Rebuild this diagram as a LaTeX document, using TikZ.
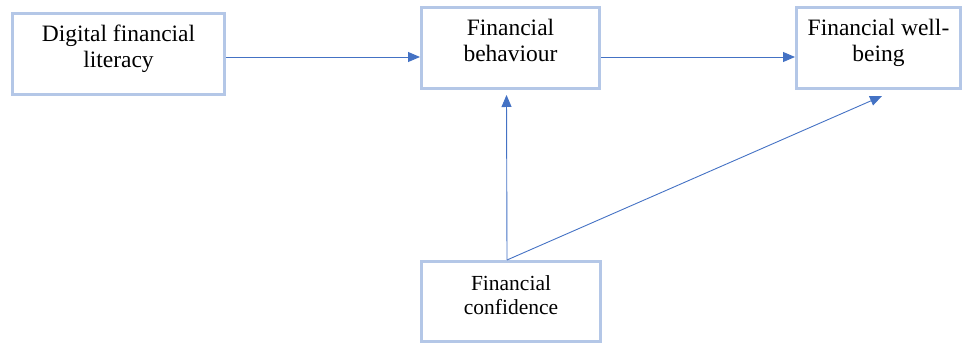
\documentclass[tikz,border=0pt]{standalone}
\usepackage{fontspec}
\setmainfont{Liberation Serif}
\usepackage{tikz}
\usetikzlibrary{arrows.meta}
\definecolor{boxline}{RGB}{180,199,231}
\definecolor{arrowblue}{RGB}{68,114,196}
\tikzset{
    var-box/.style = {draw=boxline, fill=white, line width=3pt, rectangle, align=center, inner sep=0pt, text depth=15pt, minimum height=81pt, font=\fontsize{23.5}{26}\selectfont},
    small-box/.style = {var-box, text depth=13pt, font=\fontsize{21.5}{23.5}\selectfont},
    link/.style = {draw=arrowblue, line width=0.9pt, -{Triangle[length=12pt,width=10pt]}},
}

\begin{document}
\begin{tikzpicture}[x=1pt,y=1pt]
\useasboundingbox (0,0) rectangle (966,345);
\node[var-box, minimum width=212pt] (lit) at (118.5,291) {Digital financial\\literacy};
\node[var-box, minimum width=178pt] (beh) at (510.5,297) {Financial\\behaviour};
\node[var-box, minimum width=164pt] (well) at (878.5,297) {Financial well-\\being};
\node[small-box, minimum width=179pt, minimum height=80pt] (conf) at (511,43.5) {Financial\\confidence};
% paths between the boxes
\draw[link] ([yshift=-3pt]lit.east) -- ([yshift=-3pt]lit.east -| beh.west);
\draw[link] ([yshift=-9pt]beh.east) -- ([yshift=-9pt]beh.east -| well.west);
\draw[link] ([xshift=-4pt]conf.north) -- ([xshift=-4pt,yshift=-5pt]beh.south);
\draw[link] ([xshift=-4pt]conf.north) -- ([xshift=3.5pt,yshift=-6pt]well.south);
\end{tikzpicture}
\end{document}
